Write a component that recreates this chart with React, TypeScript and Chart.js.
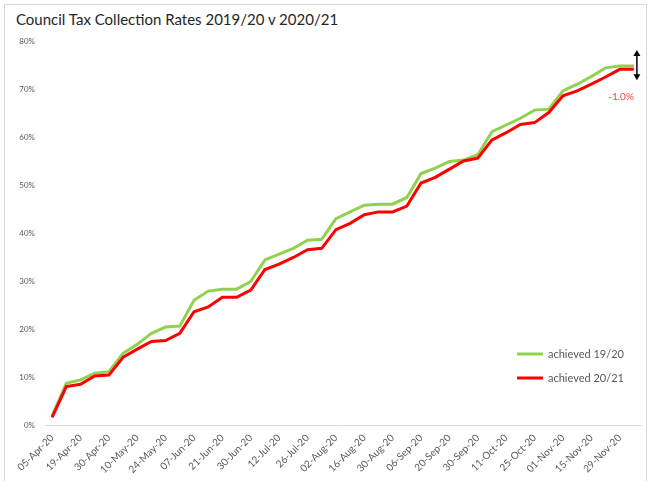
import React, { useEffect, useRef } from "react";
import { Chart, registerables } from "chart.js";

Chart.register(...registerables);

const TITLE = "Council Tax Collection Rates 2019/20 v 2020/21";

const dates = [
  "05-Apr-20", "12-Apr-20", "19-Apr-20", "26-Apr-20", "30-Apr-20", "03-May-20",
  "10-May-20", "17-May-20", "24-May-20", "31-May-20", "07-Jun-20", "14-Jun-20",
  "21-Jun-20", "28-Jun-20", "30-Jun-20", "05-Jul-20", "12-Jul-20", "19-Jul-20",
  "26-Jul-20", "31-Jul-20", "02-Aug-20", "09-Aug-20", "16-Aug-20", "23-Aug-20",
  "30-Aug-20", "31-Aug-20", "06-Sep-20", "13-Sep-20", "20-Sep-20", "27-Sep-20",
  "30-Sep-20", "04-Oct-20", "11-Oct-20", "18-Oct-20", "25-Oct-20", "31-Oct-20",
  "01-Nov-20", "08-Nov-20", "15-Nov-20", "22-Nov-20", "29-Nov-20", "30-Nov-20",
];

const achieved1920 = [
  1.9, 8.7, 9.4, 10.8, 11.1, 14.9, 16.8, 19.1, 20.4, 20.6, 26.0, 27.9, 28.3, 28.3,
  29.9, 34.4, 35.6, 36.8, 38.5, 38.7, 43.0, 44.4, 45.8, 46.0, 46.0, 47.4, 52.4, 53.5,
  54.9, 55.2, 56.3, 61.1, 62.5, 63.9, 65.6, 65.8, 69.6, 71.0, 72.6, 74.4, 74.8, 74.8,
];

const achieved2021 = [
  1.6, 8.0, 8.5, 10.2, 10.4, 14.1, 15.8, 17.4, 17.6, 19.1, 23.6, 24.6, 26.6, 26.6,
  28.1, 32.4, 33.5, 34.9, 36.5, 36.8, 40.7, 42.0, 43.8, 44.4, 44.4, 45.6, 50.4, 51.6,
  53.3, 55.0, 55.6, 59.4, 60.9, 62.6, 63.0, 65.1, 68.6, 69.6, 71.0, 72.5, 74.1, 74.1,
];

const seriesNames = ["achieved 19/20", "achieved 20/21"];
const seriesColors = ["#92d050", "#ff0000"];
const gapLabel = "-1.0%";

const yMin = 0;
const yMax = 80;
const yStep = 10;

const FONT = "Lato, 'Open Sans', sans-serif";

const overlayPlugin = {
  id: "overlay",
  afterDatasetsDraw(chart: any) {
    const ctx = chart.ctx;
    const area = chart.chartArea;
    const xs = chart.scales.x;
    const ys = chart.scales.y;
    ctx.save();

    // legend
    const lx0 = area.right - 124;
    const rows = [area.bottom - 71, area.bottom - 47];
    ctx.font = `11px ${FONT}`;
    ctx.textBaseline = "middle";
    ctx.textAlign = "left";
    chart.data.datasets.forEach((ds: any, i: number) => {
      const y = rows[i];
      ctx.strokeStyle = ds.borderColor;
      ctx.lineWidth = 3;
      ctx.beginPath();
      ctx.moveTo(lx0, y);
      ctx.lineTo(lx0 + 26, y);
      ctx.stroke();
      ctx.fillStyle = "#595959";
      ctx.fillText(ds.label, lx0 + 31, y + 0.5);
    });

    // gap annotation
    const last = achieved1920.length - 1;
    const px = xs.getPixelForValue(last);
    const ax = px + 3;
    const yTop = ys.getPixelForValue(achieved1920[last]) - 16;
    const yBot = ys.getPixelForValue(achieved2021[last]) + 11;
    ctx.strokeStyle = "#000";
    ctx.fillStyle = "#000";
    ctx.lineWidth = 1.5;
    ctx.beginPath();
    ctx.moveTo(ax, yTop + 3);
    ctx.lineTo(ax, yBot - 3);
    ctx.stroke();
    ctx.beginPath();
    ctx.moveTo(ax, yTop);
    ctx.lineTo(ax - 3.5, yTop + 6);
    ctx.lineTo(ax + 3.5, yTop + 6);
    ctx.closePath();
    ctx.fill();
    ctx.beginPath();
    ctx.moveTo(ax, yBot);
    ctx.lineTo(ax - 3.5, yBot - 6);
    ctx.lineTo(ax + 3.5, yBot - 6);
    ctx.closePath();
    ctx.fill();

    ctx.font = `10px ${FONT}`;
    ctx.fillStyle = "#ff4040";
    ctx.textAlign = "right";
    ctx.fillText(gapLabel, px, yBot + 16);
    ctx.restore();
  },
};

export default function App() {
  const canvasRef = useRef<HTMLCanvasElement | null>(null);

  useEffect(() => {
    if (!canvasRef.current) return;
    const chart = new Chart(canvasRef.current, {
      type: "line",
      data: {
        labels: dates,
        datasets: [
          {
            label: seriesNames[0],
            data: achieved1920,
            borderColor: seriesColors[0],
            backgroundColor: seriesColors[0],
            borderWidth: 3,
            pointRadius: 0,
            tension: 0,
            order: 1,
          },
          {
            label: seriesNames[1],
            data: achieved2021,
            borderColor: seriesColors[1],
            backgroundColor: seriesColors[1],
            borderWidth: 3,
            pointRadius: 0,
            tension: 0,
            order: 0,
          },
        ],
      },
      options: {
        responsive: false,
        animation: false,
        devicePixelRatio: 1,
        layout: { padding: { left: 0, right: 15, top: 41, bottom: 0 } },
        plugins: {
          legend: { display: false },
          tooltip: { enabled: false },
          title: { display: false },
        },
        scales: {
          x: {
            offset: true,
            grid: { display: false, drawTicks: false },
            border: { display: true, color: "#d9d9d9", width: 1 },
            ticks: {
              autoSkip: false,
              maxRotation: 45,
              minRotation: 45,
              padding: 7,
              color: "#595959",
              font: { family: FONT, size: 10 },
              callback: (_v: any, i: number) => (i % 2 === 0 ? dates[i] : ""),
            },
            afterFit: (s: any) => {
              s.height = 56;
            },
          },
          y: {
            min: yMin,
            max: yMax,
            grid: { display: false, drawTicks: false },
            border: { display: false },
            ticks: {
              stepSize: yStep,
              padding: 10,
              color: "#595959",
              font: { family: FONT, size: 8 },
              callback: (v: any) => `${v}%`,
            },
            afterFit: (s: any) => {
              s.width = 45;
            },
          },
        },
      },
      plugins: [overlayPlugin],
    });
    return () => chart.destroy();
  }, []);

  return (
    <div
      style={{
        position: "fixed",
        left: 0,
        top: 0,
        width: 656,
        height: 481,
        background: "#fff",
        overflow: "hidden",
      }}
    >
      <div
        style={{
          position: "absolute",
          left: 4,
          top: 4,
          width: 643,
          height: 490,
          border: "1px solid #d9d9d9",
          boxSizing: "border-box",
        }}
      />
      <div
        style={{
          position: "absolute",
          left: 16,
          top: 10,
          font: `15px ${FONT}`,
          color: "#262626",
          whiteSpace: "nowrap",
        }}
      >
        {TITLE}
      </div>
      <canvas
        ref={canvasRef}
        width={656}
        height={481}
        style={{ position: "absolute", left: 0, top: 0, width: 656, height: 481 }}
      />
    </div>
  );
}
